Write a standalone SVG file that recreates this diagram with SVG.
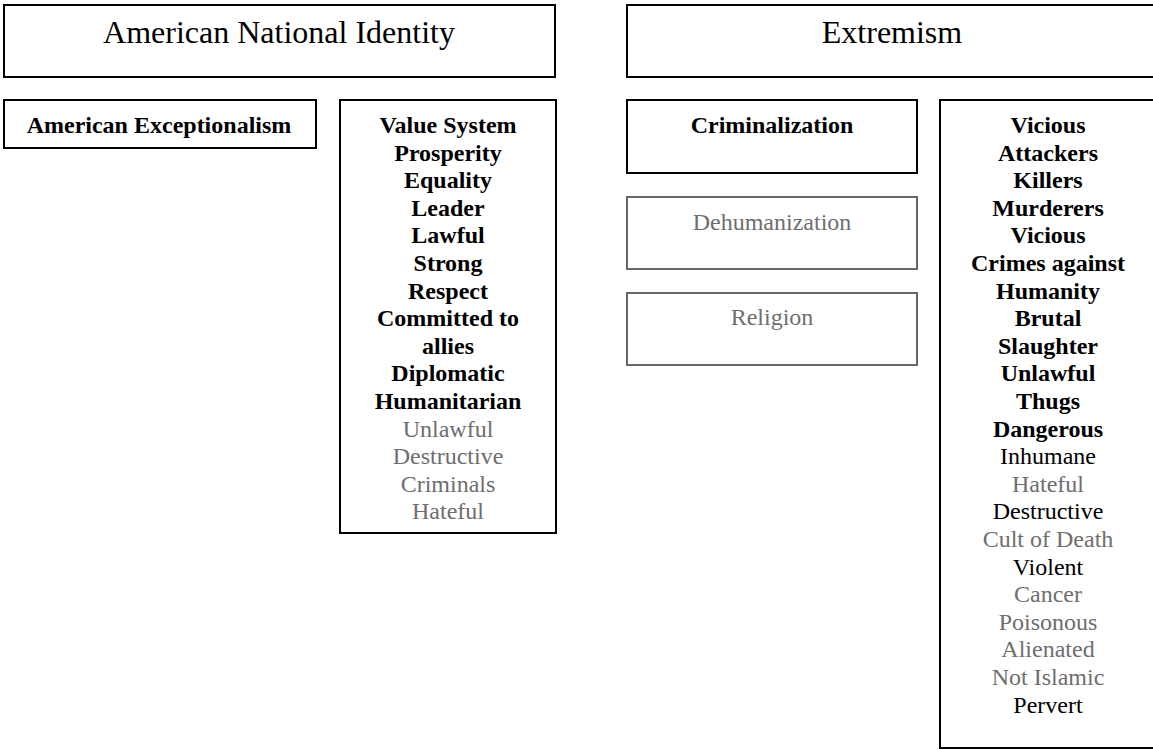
<svg xmlns="http://www.w3.org/2000/svg" width="1153" height="750" viewBox="0 0 1153 750">
<style>
.box{fill:#fff;stroke:#000;stroke-width:2}
.gbox{fill:#fff;stroke:#666;stroke-width:2}
text{font-family:"Liberation Serif","Times New Roman",serif;text-anchor:middle}
.t{font-size:32px;fill:#000}
.b{font-size:24px;font-weight:bold;fill:#000}
.n{font-size:24px;fill:#000}
.g{font-size:24px;fill:#6e6e6e}
</style>
<rect width="1153" height="750" fill="#fff"/>
<g id="american-national-identity">
<rect class="box" x="4" y="5" width="551" height="72"/>
<text class="t" x="279" y="43">American National Identity</text>
</g>
<g id="extremism">
<rect class="box" x="627" y="5" width="540" height="72"/>
<text class="t" x="892" y="43">Extremism</text>
</g>
<g id="american-exceptionalism">
<rect class="box" x="4" y="100" width="312" height="48"/>
<text class="b" x="159" y="133">American Exceptionalism</text>
</g>
<g id="value-system">
<rect class="box" x="340" y="100" width="216" height="433"/>
<text class="b" x="448" y="133">Value System</text>
<text class="b" x="448" y="160.6">Prosperity</text>
<text class="b" x="448" y="188.2">Equality</text>
<text class="b" x="448" y="215.8">Leader</text>
<text class="b" x="448" y="243.4">Lawful</text>
<text class="b" x="448" y="271">Strong</text>
<text class="b" x="448" y="298.6">Respect</text>
<text class="b" x="448" y="326.2">Committed to</text>
<text class="b" x="448" y="353.8">allies</text>
<text class="b" x="448" y="381.4">Diplomatic</text>
<text class="b" x="448" y="409">Humanitarian</text>
<text class="g" x="448" y="436.6">Unlawful</text>
<text class="g" x="448" y="464.2">Destructive</text>
<text class="g" x="448" y="491.8">Criminals</text>
<text class="g" x="448" y="519.4">Hateful</text>
</g>
<g id="criminalization">
<rect class="box" x="627" y="100" width="290" height="73"/>
<text class="b" x="772" y="133">Criminalization</text>
</g>
<g id="dehumanization">
<rect class="gbox" x="627" y="197" width="290" height="72"/>
<text class="g" x="772" y="230">Dehumanization</text>
</g>
<g id="religion">
<rect class="gbox" x="627" y="293" width="290" height="72"/>
<text class="g" x="772" y="325">Religion</text>
</g>
<g id="extremism-terms">
<rect class="box" x="940" y="100" width="230" height="648"/>
<text class="b" x="1048" y="133">Vicious</text>
<text class="b" x="1048" y="160.6">Attackers</text>
<text class="b" x="1048" y="188.2">Killers</text>
<text class="b" x="1048" y="215.8">Murderers</text>
<text class="b" x="1048" y="243.4">Vicious</text>
<text class="b" x="1048" y="271">Crimes against</text>
<text class="b" x="1048" y="298.6">Humanity</text>
<text class="b" x="1048" y="326.2">Brutal</text>
<text class="b" x="1048" y="353.8">Slaughter</text>
<text class="b" x="1048" y="381.4">Unlawful</text>
<text class="b" x="1048" y="409">Thugs</text>
<text class="b" x="1048" y="436.6">Dangerous</text>
<text class="n" x="1048" y="464.2">Inhumane</text>
<text class="g" x="1048" y="491.8">Hateful</text>
<text class="n" x="1048" y="519.4">Destructive</text>
<text class="g" x="1048" y="547">Cult of Death</text>
<text class="n" x="1048" y="574.6">Violent</text>
<text class="g" x="1048" y="602.2">Cancer</text>
<text class="g" x="1048" y="629.8">Poisonous</text>
<text class="g" x="1048" y="657.4">Alienated</text>
<text class="g" x="1048" y="685">Not Islamic</text>
<text class="n" x="1048" y="712.6">Pervert</text>
</g>
<g id="connectors"></g>
</svg>
